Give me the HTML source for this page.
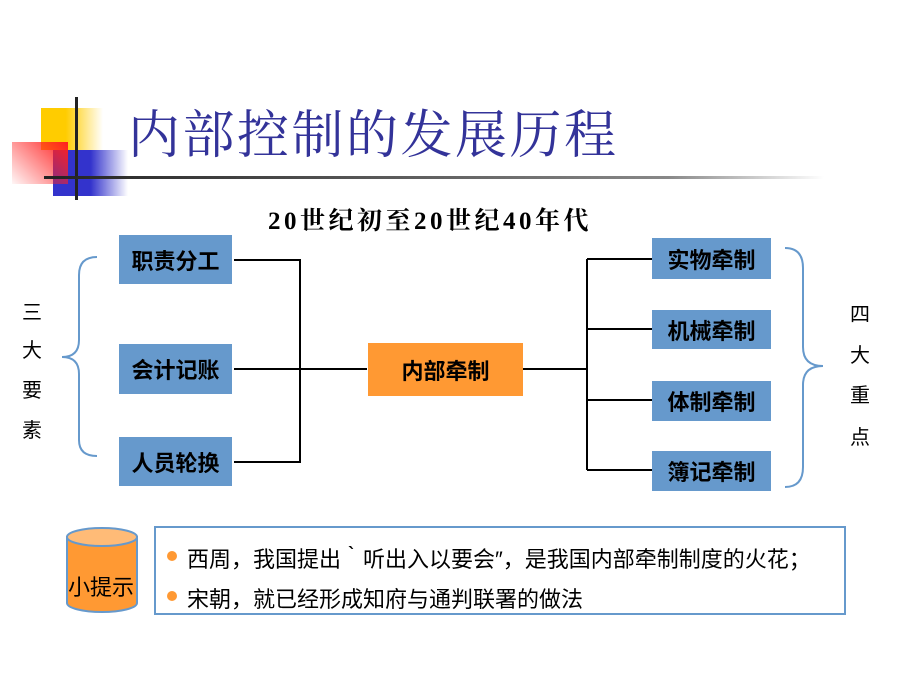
<!DOCTYPE html>
<html><head><meta charset="utf-8"><style>
body{margin:0;width:900px;height:675px;background:#fff;position:relative;overflow:hidden;font-family:"Liberation Sans","Noto Sans CJK SC",sans-serif}
.a{position:absolute}
.bx{position:absolute;background:#6699CC;color:#000;font-size:22px;font-weight:bold;display:flex;align-items:center;justify-content:center}
.v{position:absolute;font-size:20px;color:#000}
</style></head><body>
<div class="a" style="left:41px;top:108px;width:62px;height:42px;background:linear-gradient(90deg,#FFCC00 40%,rgba(255,204,0,0))"></div>
<div class="a" style="left:53px;top:150px;width:75px;height:46px;background:linear-gradient(90deg,#3333CC 50%,rgba(51,51,204,0))"></div>
<div class="a" style="left:12px;top:142px;width:56px;height:42px;background:linear-gradient(225deg,#FF2020,rgba(255,80,80,0.05))"></div>
<div class="a" style="left:75px;top:97px;width:3px;height:103px;background:#222"></div>
<div class="a" style="left:44px;top:176px;width:780px;height:3px;background:linear-gradient(90deg,#222,#888 80%,#fff)"></div>
<div class="a" style="left:128px;top:104px;font-size:52px;color:#333399;font-family:'Liberation Serif','Noto Serif CJK SC',serif;letter-spacing:2.5px;line-height:66px;white-space:nowrap">内部控制的发展历程</div>
<div class="a" style="left:268px;top:201px;font-size:25px;font-weight:bold;letter-spacing:3.5px;font-family:'Liberation Serif','Noto Serif CJK SC',serif;white-space:nowrap">20世纪初至20世纪40年代</div>
<svg class="a" style="left:0;top:0" width="900" height="675">
<g stroke="#000" stroke-width="2" fill="none">
<path d="M234 260H300V462H234M234 369H367M523 369H587M587 259V470M587 259H652M587 329H652M587 400H652M587 470H652"/>
</g>
<g stroke="#6699CC" stroke-width="2" fill="none">
<path d="M97 257Q79 257 79 275V340Q79 357 62 357Q79 357 79 374V440Q79 456 97 456"/>
<path d="M785 248Q803 248 803 268V347Q803 366 823 366Q803 366 803 385V467Q803 487 785 487"/>
</g>
<path d="M67 537V603A35 9 0 0 0 137 603V537Z" fill="#FF9933" stroke="#6699CC" stroke-width="2"/>
<ellipse cx="102" cy="537" rx="35" ry="9" fill="#FFBB77" stroke="#6699CC" stroke-width="2"/>
<rect x="155" y="527" width="690" height="87" fill="#fff" stroke="#6699CC" stroke-width="2"/>
<circle cx="172" cy="556" r="5" fill="#FF9933"/><circle cx="172" cy="596" r="5" fill="#FF9933"/>
</svg>
<div class="bx" style="left:119px;top:235px;width:113px;height:49px">职责分工</div>
<div class="bx" style="left:119px;top:344px;width:113px;height:50px">会计记账</div>
<div class="bx" style="left:119px;top:437px;width:113px;height:49px">人员轮换</div>
<div class="bx" style="left:368px;top:343px;width:155px;height:53px;background:#FF9933">内部牵制</div>
<div class="bx" style="left:652px;top:238px;width:119px;height:41px">实物牵制</div>
<div class="bx" style="left:652px;top:310px;width:119px;height:39px">机械牵制</div>
<div class="bx" style="left:652px;top:381px;width:119px;height:40px">体制牵制</div>
<div class="bx" style="left:652px;top:451px;width:119px;height:40px">簿记牵制</div>
<div class="v" style="left:22px;top:296px">三</div><div class="v" style="left:22px;top:334px">大</div><div class="v" style="left:22px;top:374px">要</div><div class="v" style="left:22px;top:414px">素</div>
<div class="v" style="left:850px;top:298px">四</div><div class="v" style="left:850px;top:339px">大</div><div class="v" style="left:850px;top:379px">重</div><div class="v" style="left:850px;top:421px">点</div>
<div class="a" style="left:68px;top:570px;font-size:22px">小提示</div>
<div class="a" style="left:187px;top:542px;font-size:22px;white-space:nowrap">西周，我国提出‵听出入以要会″，是我国内部牵制制度的火花；</div>
<div class="a" style="left:187px;top:582px;font-size:22px;white-space:nowrap">宋朝，就已经形成知府与通判联署的做法</div>
</body></html>
